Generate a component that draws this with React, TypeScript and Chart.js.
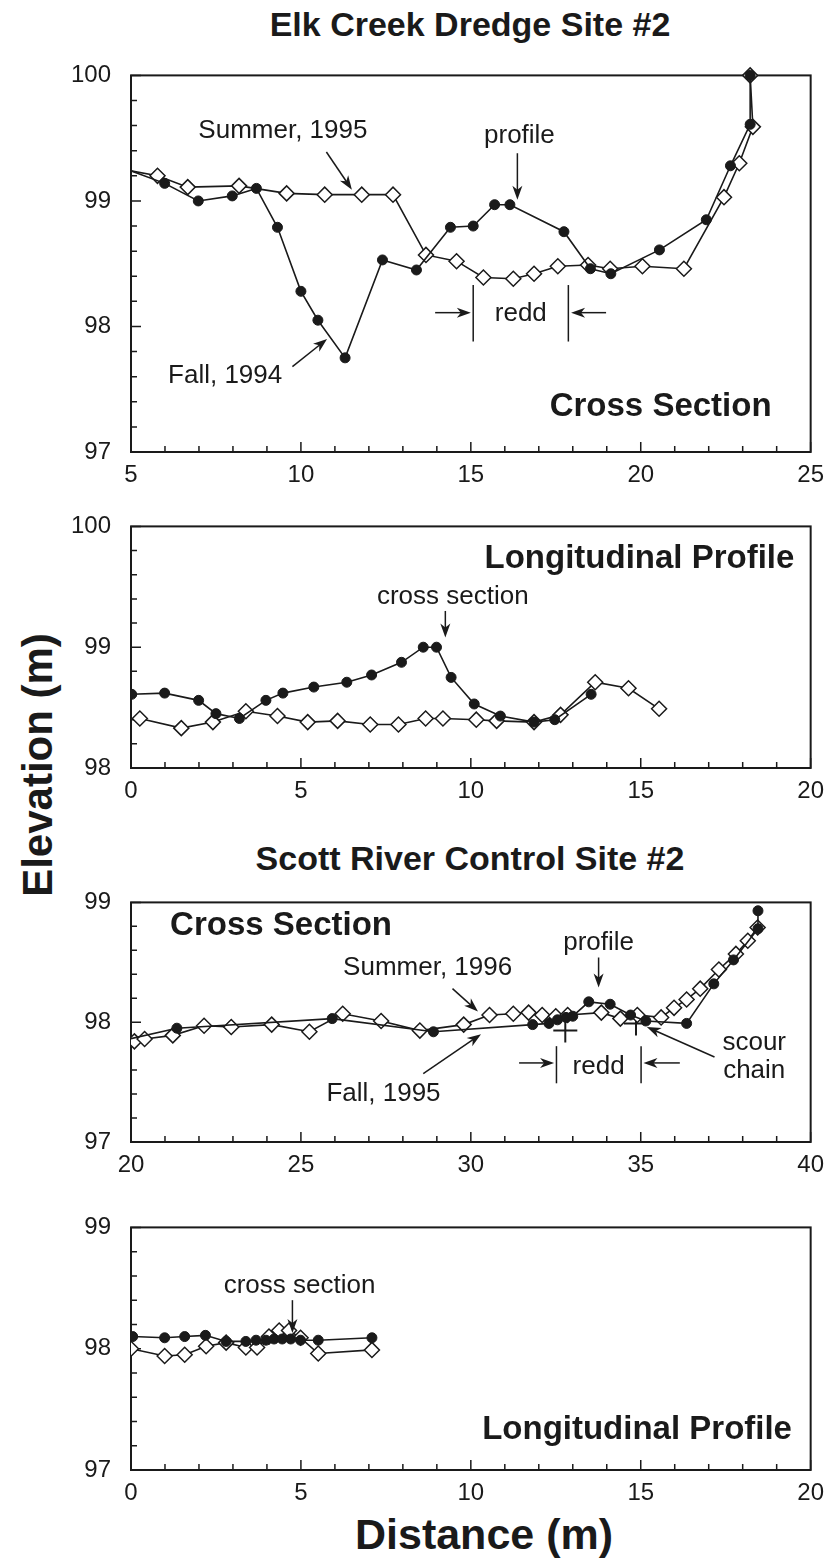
import React, { useEffect, useRef } from "react";
import { Chart, registerables } from "chart.js";
Chart.register(...registerables);

const FONT = '"Liberation Sans", Arial, Helvetica, sans-serif';
const INK = "#1a1a1a";

// ---------- Elk Creek Dredge Site #2 : cross section (x 5-25, y 97-100) ----------
const elkXsFallX = [4.6, 5.99, 6.98, 7.98, 8.69, 9.31, 10.0, 10.5, 11.3, 12.4, 13.4, 14.4, 15.07, 15.7, 16.15, 17.74, 18.52, 19.12, 20.55, 21.93, 22.64, 23.22, 23.22];
const elkXsFallY = [99.28, 99.14, 99.0, 99.04, 99.1, 98.79, 98.28, 98.05, 97.75, 98.53, 98.45, 98.79, 98.8, 98.97, 98.97, 98.755, 98.46, 98.42, 98.61, 98.85, 99.28, 99.61, 100.0];
const elkXsSummerX = [4.6, 5.78, 6.67, 8.18, 9.58, 10.7, 11.79, 12.71, 13.68, 14.58, 15.37, 16.25, 16.86, 17.56, 18.45, 19.1, 20.05, 21.27, 22.45, 22.9, 23.3, 23.22];
const elkXsSummerY = [99.26, 99.2, 99.11, 99.12, 99.06, 99.05, 99.05, 99.05, 98.57, 98.52, 98.39, 98.38, 98.42, 98.48, 98.49, 98.46, 98.48, 98.46, 99.03, 99.3, 99.59, 100.0];

// ---------- Elk Creek : longitudinal profile (x 0-20, y 98-100) ----------
const elkLpFallX = [0.02, 0.99, 1.99, 2.5, 3.19, 3.97, 4.47, 5.38, 6.35, 7.08, 7.96, 8.6, 8.99, 9.42, 10.1, 10.87, 11.86, 12.47, 13.54];
const elkLpFallY = [98.61, 98.62, 98.56, 98.45, 98.41, 98.56, 98.62, 98.67, 98.71, 98.77, 98.875, 99.0, 99.0, 98.75, 98.53, 98.43, 98.38, 98.4, 98.61];
const elkLpSummerX = [0.26, 1.48, 2.41, 3.38, 4.31, 5.2, 6.08, 7.04, 7.87, 8.67, 9.18, 10.16, 10.76, 11.86, 12.64, 13.66, 14.64, 15.54];
const elkLpSummerY = [98.41, 98.33, 98.38, 98.47, 98.43, 98.38, 98.39, 98.36, 98.36, 98.41, 98.41, 98.4, 98.39, 98.38, 98.44, 98.71, 98.66, 98.49];

// ---------- Scott River Control Site #2 : cross section (x 20-40, y 97-99) ----------
const scottXsFallX = [19.8, 21.35, 25.92, 28.9, 31.82, 32.3, 32.55, 32.8, 33.0, 33.47, 34.1, 34.7, 35.15, 36.35, 37.15, 37.73, 38.45, 38.45];
const scottXsFallY = [97.85, 97.95, 98.03, 97.92, 97.98, 97.99, 98.02, 98.04, 98.05, 98.17, 98.15, 98.06, 98.01, 97.99, 98.32, 98.52, 98.78, 98.93];
const scottXsSummerX = [20.1, 20.4, 21.23, 22.15, 22.95, 24.14, 25.25, 26.23, 27.36, 28.5, 29.79, 30.55, 31.25, 31.7, 32.1, 32.5, 32.85, 33.84, 34.4, 34.9, 35.6, 35.98, 36.35, 36.75, 37.3, 37.8, 38.15, 38.44];
const scottXsSummerY = [97.84, 97.86, 97.89, 97.97, 97.96, 97.98, 97.92, 98.07, 98.01, 97.93, 97.98, 98.06, 98.07, 98.08, 98.06, 98.05, 98.06, 98.08, 98.03, 98.06, 98.04, 98.12, 98.19, 98.28, 98.44, 98.57, 98.68, 98.79];
const scourChainX = [32.78, 34.86];
const scourChainY = [97.93, 97.99];

// ---------- Scott River : longitudinal profile (x 0-20, y 97-99) ----------
const scottLpFallX = [0.05, 0.99, 1.58, 2.19, 2.8, 3.38, 3.68, 3.97, 4.21, 4.45, 4.7, 4.99, 5.51, 7.09];
const scottLpFallY = [98.1, 98.09, 98.1, 98.11, 98.06, 98.06, 98.07, 98.07, 98.08, 98.08, 98.08, 98.07, 98.07, 98.09];
const scottLpSummerX = [0.0, 0.99, 1.58, 2.21, 2.8, 3.38, 3.71, 4.06, 4.36, 4.65, 4.99, 5.51, 7.09];
const scottLpSummerY = [98.0, 97.94, 97.95, 98.02, 98.05, 98.01, 98.01, 98.1, 98.15, 98.15, 98.09, 97.96, 97.99];

type Ann =
  | { kind: "text"; x: number; y: number; text: string; size: number; bold?: boolean; align?: CanvasTextAlign }
  | { kind: "arrow"; x1: number; y1: number; x2: number; y2: number }
  | { kind: "vline"; x: number; y1: number; y2: number };

const ANN_SIZE = 26;
const SUB_SIZE = 33;

const elkXsNotes: Ann[] = [
  { kind: "text", x: 9.47, y: 99.56, text: "Summer, 1995", size: ANN_SIZE },
  { kind: "arrow", x1: 10.75, y1: 99.39, x2: 11.5, y2: 99.09 },
  { kind: "text", x: 16.43, y: 99.52, text: "profile", size: ANN_SIZE },
  { kind: "arrow", x1: 16.37, y1: 99.38, x2: 16.37, y2: 99.01 },
  { kind: "text", x: 7.77, y: 97.61, text: "Fall, 1994", size: ANN_SIZE },
  { kind: "arrow", x1: 9.75, y1: 97.68, x2: 10.77, y2: 97.9 },
  { kind: "vline", x: 15.07, y1: 98.33, y2: 97.88 },
  { kind: "vline", x: 17.87, y1: 98.33, y2: 97.88 },
  { kind: "text", x: 16.47, y: 98.1, text: "redd", size: ANN_SIZE },
  { kind: "arrow", x1: 13.95, y1: 98.11, x2: 15.0, y2: 98.11 },
  { kind: "arrow", x1: 18.98, y1: 98.11, x2: 17.95, y2: 98.11 },
  { kind: "text", x: 23.85, y: 97.36, text: "Cross Section", size: SUB_SIZE, bold: true, align: "right" },
];

const elkLpNotes: Ann[] = [
  { kind: "text", x: 19.52, y: 99.73, text: "Longitudinal Profile", size: SUB_SIZE, bold: true, align: "right" },
  { kind: "text", x: 9.47, y: 99.42, text: "cross section", size: ANN_SIZE },
  { kind: "arrow", x1: 9.25, y1: 99.3, x2: 9.25, y2: 99.08 },
];

const scottXsNotes: Ann[] = [
  { kind: "text", x: 21.15, y: 98.8, text: "Cross Section", size: SUB_SIZE, bold: true, align: "left" },
  { kind: "text", x: 28.73, y: 98.45, text: "Summer, 1996", size: ANN_SIZE },
  { kind: "arrow", x1: 29.46, y1: 98.28, x2: 30.21, y2: 98.09 },
  { kind: "text", x: 27.43, y: 97.4, text: "Fall, 1995", size: ANN_SIZE },
  { kind: "arrow", x1: 28.6, y1: 97.57, x2: 30.3, y2: 97.9 },
  { kind: "text", x: 33.76, y: 98.66, text: "profile", size: ANN_SIZE },
  { kind: "arrow", x1: 33.76, y1: 98.54, x2: 33.76, y2: 98.29 },
  { kind: "text", x: 33.76, y: 97.63, text: "redd", size: ANN_SIZE },
  { kind: "vline", x: 32.52, y1: 97.8, y2: 97.49 },
  { kind: "vline", x: 35.01, y1: 97.8, y2: 97.49 },
  { kind: "arrow", x1: 31.42, y1: 97.66, x2: 32.45, y2: 97.66 },
  { kind: "arrow", x1: 36.15, y1: 97.66, x2: 35.08, y2: 97.66 },
  { kind: "text", x: 38.34, y: 97.83, text: "scour", size: ANN_SIZE },
  { kind: "text", x: 38.34, y: 97.59, text: "chain", size: ANN_SIZE },
  { kind: "arrow", x1: 37.17, y1: 97.71, x2: 35.18, y2: 97.96 },
];

const scottLpNotes: Ann[] = [
  { kind: "text", x: 4.96, y: 98.52, text: "cross section", size: ANN_SIZE },
  { kind: "arrow", x1: 4.75, y1: 98.4, x2: 4.75, y2: 98.13 },
  { kind: "text", x: 19.45, y: 97.33, text: "Longitudinal Profile", size: SUB_SIZE, bold: true, align: "right" },
];

const zip = (xs: number[], ys: number[]) => xs.map((x, i) => ({ x, y: ys[i] }));
const isMult = (v: number, m: number) => Math.abs(v / m - Math.round(v / m)) < 1e-6;

function drawArrow(ctx: CanvasRenderingContext2D, x1: number, y1: number, x2: number, y2: number) {
  const ang = Math.atan2(y2 - y1, x2 - x1);
  const L = 14, W = 5, N = 4;
  ctx.beginPath();
  ctx.moveTo(x1, y1);
  ctx.lineTo(x2 - Math.cos(ang) * 8, y2 - Math.sin(ang) * 8);
  ctx.stroke();
  ctx.save();
  ctx.translate(x2, y2);
  ctx.rotate(ang);
  ctx.beginPath();
  ctx.moveTo(0, 0);
  ctx.lineTo(-L, -W);
  ctx.lineTo(-L + N, 0);
  ctx.lineTo(-L, W);
  ctx.closePath();
  ctx.fill();
  ctx.restore();
}

function makeDecor(notes: Ann[], xMajor: number) {
  return {
    id: "decor",
    beforeDatasetsDraw(chart: any) {
      const { ctx, chartArea: a } = chart;
      const xs = chart.scales.x, ys = chart.scales.y;
      ctx.save();
      ctx.strokeStyle = INK;
      ctx.lineWidth = 1.5;
      ctx.beginPath();
      xs.ticks.forEach((t: any) => {
        const px = xs.getPixelForValue(t.value);
        const len = isMult(t.value, xMajor) ? 10 : 6;
        ctx.moveTo(px, a.bottom);
        ctx.lineTo(px, a.bottom - len);
      });
      ys.ticks.forEach((t: any) => {
        const py = ys.getPixelForValue(t.value);
        const len = isMult(t.value, 1) ? 10 : 6;
        ctx.moveTo(a.left, py);
        ctx.lineTo(a.left + len, py);
      });
      ctx.stroke();
      ctx.lineWidth = 2;
      ctx.strokeRect(a.left, a.top, a.right - a.left, a.bottom - a.top);
      ctx.restore();
    },
    afterDatasetsDraw(chart: any) {
      const { ctx } = chart;
      const xs = chart.scales.x, ys = chart.scales.y;
      ctx.save();
      ctx.strokeStyle = INK;
      ctx.fillStyle = INK;
      ctx.lineWidth = 1.5;
      notes.forEach((n) => {
        if (n.kind === "text") {
          ctx.font = `${n.bold ? "bold " : ""}${n.size}px ${FONT}`;
          ctx.textAlign = n.align || "center";
          ctx.textBaseline = "middle";
          ctx.fillText(n.text, xs.getPixelForValue(n.x), ys.getPixelForValue(n.y));
        } else if (n.kind === "arrow") {
          drawArrow(ctx, xs.getPixelForValue(n.x1), ys.getPixelForValue(n.y1), xs.getPixelForValue(n.x2), ys.getPixelForValue(n.y2));
        } else {
          const px = xs.getPixelForValue(n.x);
          ctx.beginPath();
          ctx.moveTo(px, ys.getPixelForValue(n.y1));
          ctx.lineTo(px, ys.getPixelForValue(n.y2));
          ctx.stroke();
        }
      });
      ctx.restore();
    },
  };
}

type PanelSpec = {
  top: number;
  bottom: number;
  xMin: number;
  xMax: number;
  yMin: number;
  yMax: number;
  fall: { x: number; y: number }[];
  summer: { x: number; y: number }[];
  crosses?: { x: number; y: number }[];
  notes: Ann[];
};

const PAD_TOP = 20;
const X_AXIS_H = 48;
const PLOT_LEFT = 131;
const PLOT_RIGHT = 815;
const W = 833;

function Panel({ spec }: { spec: PanelSpec }) {
  const ref = useRef<HTMLCanvasElement>(null);
  const H = spec.bottom - spec.top + PAD_TOP + X_AXIS_H;
  useEffect(() => {
    const clip = { left: 0, top: 14, right: 14, bottom: 0 } as any;
    const datasets: any[] = [
      {
        label: "Fall",
        data: spec.fall,
        borderColor: INK,
        borderWidth: 1.6,
        pointStyle: "circle",
        pointRadius: 5,
        pointBackgroundColor: INK,
        pointBorderColor: INK,
        pointBorderWidth: 1,
        tension: 0,
        clip,
      },
      {
        label: "Summer",
        data: spec.summer,
        borderColor: INK,
        borderWidth: 1.6,
        pointStyle: "rectRot",
        pointRadius: 7.5,
        pointBackgroundColor: "#ffffff",
        pointBorderColor: INK,
        pointBorderWidth: 1.5,
        tension: 0,
        clip,
      },
    ];
    if (spec.crosses) {
      datasets.push({
        label: "scour chain",
        data: spec.crosses,
        showLine: false,
        pointStyle: "cross",
        pointRadius: 12,
        pointBorderColor: INK,
        pointBorderWidth: 2,
        clip,
      });
    }
    const xMajor = 5;
    const chart = new Chart(ref.current as HTMLCanvasElement, {
      type: "line",
      data: { datasets },
      options: {
        animation: false,
        responsive: false,
        devicePixelRatio: 1,
        events: [],
        layout: { padding: { top: PAD_TOP, right: W - PLOT_RIGHT, left: 0, bottom: 0 } },
        plugins: { legend: { display: false }, tooltip: { enabled: false }, title: { display: false } },
        scales: {
          x: {
            type: "linear",
            min: spec.xMin,
            max: spec.xMax,
            grid: { display: false, drawTicks: false },
            border: { display: false },
            ticks: {
              stepSize: 1,
              autoSkip: false,
              maxRotation: 0,
              padding: 9,
              color: INK,
              font: { family: FONT, size: 24 },
              callback: (v: any) => (isMult(Number(v), xMajor) ? String(Math.round(Number(v))) : ""),
            },
            afterFit: (s: any) => {
              s.height = X_AXIS_H;
            },
          },
          y: {
            type: "linear",
            min: spec.yMin,
            max: spec.yMax,
            grid: { display: false, drawTicks: false },
            border: { display: false },
            ticks: {
              stepSize: 0.2,
              autoSkip: false,
              padding: 20,
              color: INK,
              font: { family: FONT, size: 24 },
              callback: (v: any) => (isMult(Number(v), 1) ? String(Math.round(Number(v))) : ""),
            },
            afterFit: (s: any) => {
              s.width = PLOT_LEFT;
            },
          },
        },
      } as any,
      plugins: [makeDecor(spec.notes, xMajor)],
    });
    return () => chart.destroy();
  }, []);
  return (
    <canvas
      ref={ref}
      width={W}
      height={H}
      style={{ position: "absolute", left: 0, top: spec.top - PAD_TOP, width: W, height: H }}
    />
  );
}

const panels: PanelSpec[] = [
  { top: 61, bottom: 452, xMin: 5, xMax: 25, yMin: 97, yMax: 100, fall: zip(elkXsFallX, elkXsFallY), summer: zip(elkXsSummerX, elkXsSummerY), notes: elkXsNotes },
  { top: 512, bottom: 768, xMin: 0, xMax: 20, yMin: 98, yMax: 100, fall: zip(elkLpFallX, elkLpFallY), summer: zip(elkLpSummerX, elkLpSummerY), notes: elkLpNotes },
  { top: 888, bottom: 1142, xMin: 20, xMax: 40, yMin: 97, yMax: 99, fall: zip(scottXsFallX, scottXsFallY), summer: zip(scottXsSummerX, scottXsSummerY), crosses: zip(scourChainX, scourChainY), notes: scottXsNotes },
  { top: 1213, bottom: 1470, xMin: 0, xMax: 20, yMin: 97, yMax: 99, fall: zip(scottLpFallX, scottLpFallY), summer: zip(scottLpSummerX, scottLpSummerY), notes: scottLpNotes },
];

const textStyle = (size: number): React.CSSProperties => ({
  position: "absolute",
  fontFamily: FONT,
  fontWeight: "bold",
  fontSize: size,
  lineHeight: 1,
  whiteSpace: "nowrap",
  color: INK,
});

export default function App() {
  return (
    <div style={{ position: "absolute", left: 0, top: 0, width: W, height: 1562, background: "#fff", overflow: "hidden" }}>
      <div style={{ ...textStyle(34), left: 470, top: 24, transform: "translate(-50%, -50%)" }}>Elk Creek Dredge Site #2</div>
      <div style={{ ...textStyle(34), left: 470, top: 858, transform: "translate(-50%, -50%)" }}>Scott River Control Site #2</div>
      <div style={{ ...textStyle(42), left: 38, top: 765, transform: "translate(-50%, -50%) rotate(-90deg)" }}>Elevation (m)</div>
      <div style={{ ...textStyle(43), left: 484, top: 1534, transform: "translate(-50%, -50%)" }}>Distance (m)</div>
      {panels.map((p, i) => (
        <Panel key={i} spec={p} />
      ))}
    </div>
  );
}
